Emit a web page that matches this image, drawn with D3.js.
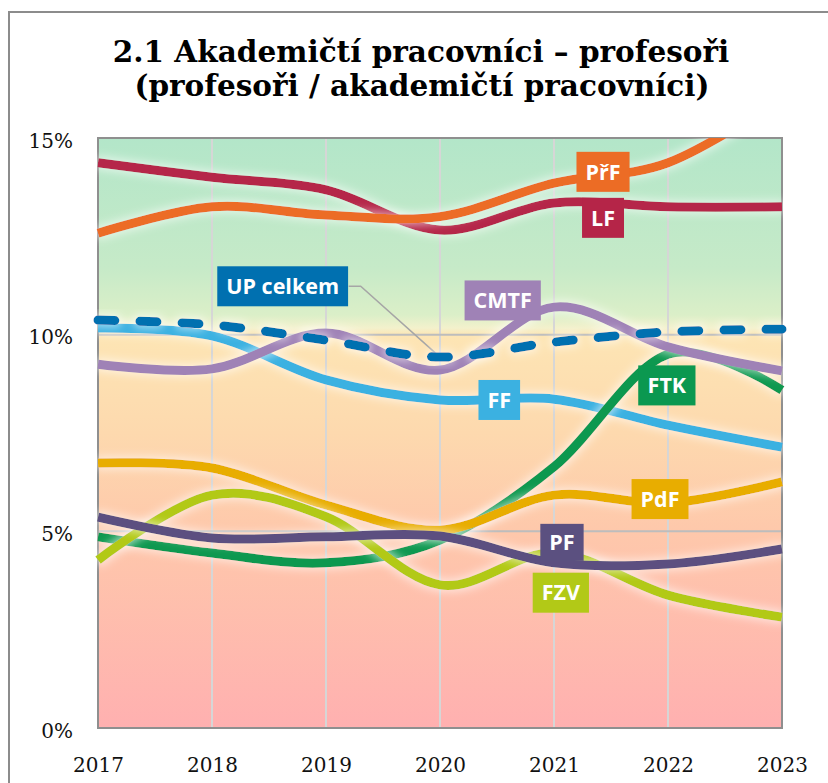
<!DOCTYPE html>
<html>
<head>
<meta charset="utf-8">
<script src="https://cdn.jsdelivr.net/npm/d3@7"></script>
<style>
  body { margin: 0; background: #fff; }
</style>
</head>
<body>
<div id="viz"></div>
<script>

// data (share of professors, %)
var years = [2017, 2018, 2019, 2020, 2021, 2022, 2023];
var yTicks = [0, 5, 10, 15];

var upCelkem = [10.37, 10.25, 9.86, 9.43, 9.81, 10.07, 10.14];
var cmtf     = [9.25, 9.13, 10.04, 9.10, 10.70, 9.69, 9.08];
var ff       = [10.17, 9.97, 8.85, 8.34, 8.36, 7.70, 7.14];
var ftk      = [4.86, 4.45, 4.20, 4.78, 6.64, 9.50, 8.59];
var lf       = [14.37, 14.00, 13.68, 12.66, 13.35, 13.25, 13.25];
var prf      = [12.58, 13.25, 13.04, 13.00, 13.85, 14.37, 16.00];
var pdf      = [6.74, 6.61, 5.67, 5.03, 5.92, 5.72, 6.26];
var pf       = [5.36, 4.83, 4.86, 4.88, 4.20, 4.17, 4.55];
var fzv      = [4.27, 5.92, 5.37, 3.64, 4.45, 3.38, 2.82];

// drawing order, bottom first
var series = [
    { name: "FF",        values: ff,       color: "#3bb1e1" },
    { name: "FTK",       values: ftk,      color: "#0b9850" },
    { name: "PdF",       values: pdf,      color: "#e8ad00" },
    { name: "LF",        values: lf,       color: "#b52548" },
    { name: "PřF",       values: prf,      color: "#ec6c25" },
    { name: "FZV",       values: fzv,      color: "#b2c917" },
    { name: "PF",        values: pf,       color: "#5b5080" },
    { name: "CMTF",      values: cmtf,     color: "#9f82b6" },
    { name: "UP celkem", values: upCelkem, color: "#0070b0", dashed: true }
];

// where the name tags sit (year, value)
var tags = {
    "PřF":       [2021.43, 14.14],
    "LF":        [2021.43, 12.97],
    "UP celkem": [2018.62, 11.23],
    "CMTF":      [2020.55, 10.87],
    "FF":        [2020.52, 8.34],
    "FTK":       [2021.99, 8.71],
    "PdF":       [2021.93, 5.82],
    "PF":        [2021.07, 4.72],
    "FZV":       [2021.06, 3.44]
};

var W = 828, H = 783;
var plotL = 98, plotR = 782, plotT = 138, plotB = 728;

var svg = d3.select("#viz").append("svg")
    .attr("width", W)
    .attr("height", H);

var x = d3.scaleLinear().domain([2017, 2023]).range([plotL, plotR]);
var y = d3.scaleLinear().domain([0, 15]).range([plotB, plotT]);

var defs = svg.append("defs");

var grad = defs.append("linearGradient")
    .attr("id", "bg")
    .attr("x1", 0).attr("y1", 0).attr("x2", 0).attr("y2", 1);
[
    [0, "#b3e6c9"],
    [0.22, "#c6eac8"],
    [0.30, "#dbefc8"],
    [0.322, "#f3f1cc"],
    [0.334, "#fde5b4"],
    [0.50, "#fdd9ae"],
    [0.667, "#fec8ab"],
    [1, "#ffb0b0"]
].forEach(function (s) {
    grad.append("stop").attr("offset", s[0]).attr("stop-color", s[1]);
});

defs.append("clipPath").attr("id", "clip")
    .append("rect")
    .attr("x", 0).attr("y", plotT)
    .attr("width", W).attr("height", H - plotT);

var glow = defs.append("filter").attr("id", "glow")
    .attr("x", "-10%").attr("y", "-30%").attr("width", "120%").attr("height", "160%");
glow.append("feMorphology").attr("in", "SourceAlpha").attr("operator", "dilate").attr("radius", 2).attr("result", "d");
glow.append("feGaussianBlur").attr("in", "d").attr("stdDeviation", 4).attr("result", "b");
glow.append("feFlood").attr("flood-color", "#ffffff").attr("flood-opacity", 0.55);
glow.append("feComposite").attr("in2", "b").attr("operator", "in").attr("result", "g");
var mg = glow.append("feMerge");
mg.append("feMergeNode").attr("in", "g");
mg.append("feMergeNode").attr("in", "SourceGraphic");

// outer frame
svg.append("rect")
    .attr("x", 9).attr("y", 12)
    .attr("width", W + 20).attr("height", H + 20)
    .attr("fill", "none")
    .attr("stroke", "#8c8c8c")
    .attr("stroke-width", 2);

// title
var title = svg.append("text")
    .attr("text-anchor", "middle")
    .style("font-family", "'DejaVu Serif', serif")
    .style("font-weight", "bold")
    .style("font-size", "29.5px")
    .attr("fill", "#000");
title.append("tspan").attr("x", 421).attr("y", 62).text("2.1 Akademičtí pracovníci – profesoři");
title.append("tspan").attr("x", 422).attr("y", 96).text("(profesoři / akademičtí pracovníci)");

// plot background
svg.append("rect")
    .attr("x", plotL).attr("y", plotT)
    .attr("width", plotR - plotL).attr("height", plotB - plotT)
    .attr("fill", "url(#bg)");

// grid
svg.append("g").selectAll("line")
    .data(years.slice(1, -1))
    .join("line")
    .attr("x1", d => x(d)).attr("x2", d => x(d))
    .attr("y1", plotT).attr("y2", plotB)
    .attr("stroke", "#d6d6d6")
    .attr("stroke-width", 2);

svg.append("g").selectAll("line")
    .data(yTicks.slice(1, -1))
    .join("line")
    .attr("x1", plotL).attr("x2", plotR)
    .attr("y1", d => y(d)).attr("y2", d => y(d))
    .attr("stroke", "#bdbdbd")
    .attr("stroke-width", 2);

// frame of the plot
svg.append("rect")
    .attr("x", plotL).attr("y", plotT)
    .attr("width", plotR - plotL).attr("height", plotB - plotT)
    .attr("fill", "none")
    .attr("stroke", "#8f8f8f")
    .attr("stroke-width", 2);

// axes
var yAxis = svg.append("g")
    .attr("transform", "translate(" + (plotL - 22) + ",0)")
    .call(d3.axisLeft(y).tickValues(yTicks).tickFormat(d => d + "%").tickSize(0));
var xAxis = svg.append("g")
    .attr("transform", "translate(0," + (plotB + 27) + ")")
    .call(d3.axisBottom(x).tickValues(years).tickFormat(d3.format("d")).tickSize(0));
[yAxis, xAxis].forEach(function (a) {
    a.select(".domain").remove();
    a.selectAll("text")
        .style("font-family", "'DejaVu Serif', serif")
        .style("font-size", "20px")
        .attr("fill", "#111");
});
yAxis.selectAll("text").attr("dy", "0.45em");

// leader line for UP celkem
var upTag = tags["UP celkem"];
svg.append("polyline")
    .attr("points", [
        [x(upTag[0]) + 66, y(upTag[1])],
        [x(upTag[0]) + 78, y(upTag[1])],
        [x(2020), y(upCelkem[3])]
    ].map(p => p.join(",")).join(" "))
    .attr("fill", "none")
    .attr("stroke", "#a6a6a6")
    .attr("stroke-width", 1.5);

// lines
var line = d3.line()
    .x((d, i) => x(years[i]))
    .y(d => y(d))
    .curve(d3.curveCatmullRom.alpha(0));

var lines = svg.append("g").attr("clip-path", "url(#clip)");
series.forEach(function (s) {
    lines.append("path")
        .datum(s.values)
        .attr("d", line)
        .attr("fill", "none")
        .attr("stroke", s.color)
        .attr("stroke-width", 9)
        .attr("stroke-linecap", s.dashed ? "round" : "butt")
        .attr("stroke-dasharray", s.dashed ? "17 25" : null)
        .attr("filter", "url(#glow)");
});

// name tags
series.forEach(function (s) {
    var t = tags[s.name];
    var g = svg.append("g")
        .attr("transform", "translate(" + x(t[0]) + "," + y(t[1]) + ")");
    var txt = g.append("text")
        .attr("text-anchor", "middle")
        .attr("dy", "0.36em")
        .style("font-family", "'Open Sans', sans-serif")
        .style("font-weight", "bold")
        .style("font-size", "21.5px")
        .attr("fill", "#fff")
        .text(s.name);
    var bb = txt.node().getBBox();
    var h = s.name == "PF" ? 37 : 40;
    g.insert("rect", "text")
        .attr("x", -bb.width / 2 - 9)
        .attr("y", -h / 2)
        .attr("width", bb.width + 18)
        .attr("height", h)
        .attr("fill", s.color);
});

</script>
</body>
</html>
